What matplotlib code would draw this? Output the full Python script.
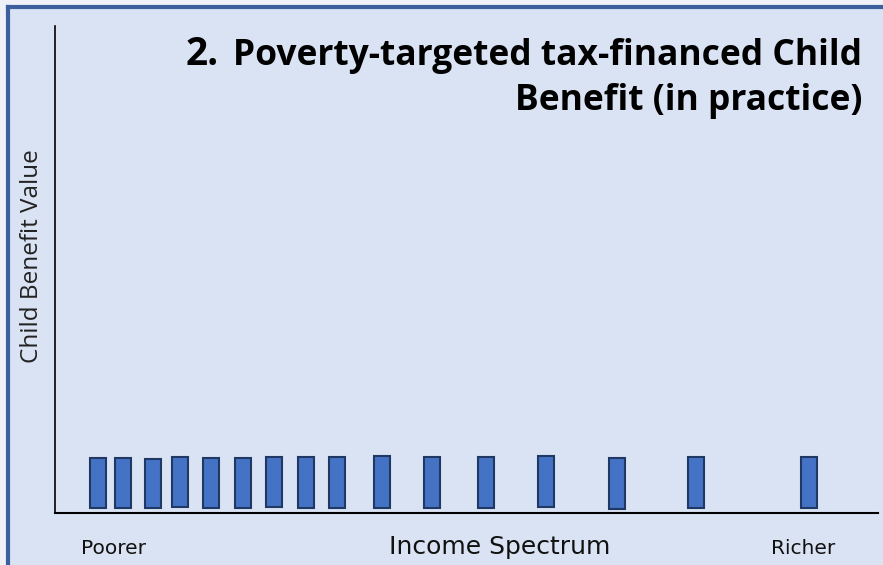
import matplotlib.pyplot as plt
from matplotlib.patches import Rectangle

# position on the income spectrum (0 = poorest, 100 = richest)
income_pos = [5.2, 8.3, 11.9, 15.2, 19.0, 22.8, 26.6, 30.5, 34.3,
              39.7, 45.8, 52.4, 59.7, 68.3, 77.9, 91.6]
# child benefit received at each point
benefit_value = [10.2, 10.2, 10.2, 10.3, 10.3, 10.3, 10.2, 10.4, 10.4,
                 10.6, 10.4, 10.4, 10.4, 10.4, 10.4, 10.4]
benefit_base = [1.03, 1.03, 0.97, 1.17, 0.97, 0.97, 1.23, 1.03, 1.03,
                1.03, 1.03, 1.09, 1.23, 0.82, 1.09, 1.09]

title_num = "2."
title_lines = ["Poverty-targeted tax-financed Child", "Benefit (in practice)"]
x_title = "Income Spectrum"
y_title = "Child Benefit Value"
end_labels = ["Poorer", "Richer"]

bg = "#dae3f3"
W, H = 883, 565

fig = plt.figure(figsize=(W / 100, H / 100), dpi=100)
fig.patch.set_facecolor("#eef1f7")

# slide panel with a dark blue border on the top and left
fig.patches.append(Rectangle((8 / W, 0), 1, 1 - 8 / H, transform=fig.transFigure,
                             facecolor=bg, edgecolor="none", zorder=-5))
fig.lines.append(plt.Line2D([8 / W, 8 / W], [0, 1 - 7 / H], transform=fig.transFigure,
                            color="#3c5f9e", lw=3, zorder=-4))
fig.lines.append(plt.Line2D([8 / W, 1], [1 - 7 / H, 1 - 7 / H], transform=fig.transFigure,
                            color="#3c5f9e", lw=3, zorder=-4))

ax = fig.add_axes([55 / W, (H - 513) / H, (878 - 55) / W, (513 - 26) / H])
ax.set_facecolor("none")
ax.set_xlim(0, 100)
ax.set_ylim(0, 100)

ax.bar(income_pos, benefit_value, width=1.95, bottom=benefit_base,
       color="#4472c4", edgecolor="#203864", linewidth=1.5)

for s in ["top", "right"]:
    ax.spines[s].set_visible(False)
ax.spines["left"].set_linewidth(1.2)
ax.spines["bottom"].set_linewidth(1.5)
ax.set_xticks([])
ax.set_yticks([])

fig.text(32 / W, 1 - 256 / H, y_title, rotation=90, ha="center", va="center",
         fontsize=17.5, family="Open Sans", color="#222222")
fig.text(500 / W, 1 - 547 / H, x_title, ha="center", va="center",
         fontsize=18, family="DejaVu Sans", color="#111111")
fig.text(113 / W, 1 - 548 / H, end_labels[0], ha="center", va="center",
         fontsize=14.5, family="DejaVu Sans", color="#111111")
fig.text(803 / W, 1 - 548 / H, end_labels[1], ha="center", va="center",
         fontsize=14.5, family="DejaVu Sans", color="#111111")

# title, right aligned, with the number set a little larger
t1 = fig.text(862 / W, 1 - 65 / H, title_lines[0], ha="right", va="baseline",
              fontsize=25.5, fontweight="bold", family="Open Sans", color="#000000")
fig.text(862 / W, 1 - 110 / H, title_lines[1], ha="right", va="baseline",
         fontsize=25.5, fontweight="bold", family="Open Sans", color="#000000")
fig.canvas.draw()
bb = t1.get_window_extent()
fig.text((bb.x0 - 14) / W, 1 - 65 / H, title_num, ha="right", va="baseline",
         fontsize=28, fontweight="bold", family="Open Sans", color="#000000")

fig.savefig("out.png", dpi=100, facecolor=fig.get_facecolor())
